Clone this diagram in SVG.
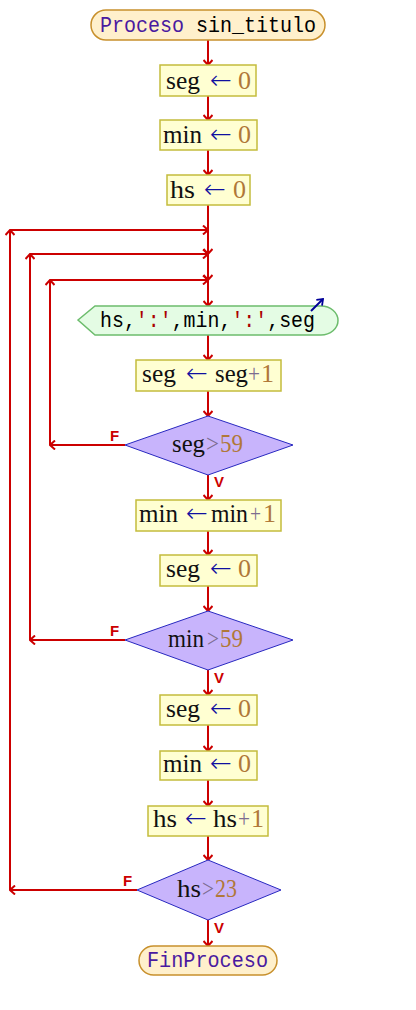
<svg xmlns="http://www.w3.org/2000/svg" width="416" height="1010" viewBox="0 0 416 1010">
<style>
.term{fill:#fff0cc;stroke:#c8902c;stroke-width:1.5}
.box{fill:#ffffd2;stroke:#c4bc3c;stroke-width:1.5}
.dia{fill:#c8b4fc;stroke:#2828c0;stroke-width:1}
.out{fill:#e4fce4;stroke:#6cbc6c;stroke-width:1.5}
.ln{stroke:#cc0000;stroke-width:2;fill:none;marker-end:url(#ah)}
.mono{font-family:"Liberation Mono",monospace;font-size:22px}
.ser{font-family:"Liberation Serif",serif;font-size:26px;fill:#111}
.arr{font-family:"DejaVu Sans",sans-serif;font-weight:200;font-size:26px;fill:#1010a0}
.num{fill:#b07838}
.op{fill:#7c6c90}
.kw{fill:#4a1aa0}
.str{fill:#aa0000}
.lbl{font-family:"Liberation Sans",sans-serif;font-size:15px;font-weight:bold;fill:#cc0000}
</style>
<defs>
<marker id="ah" viewBox="0 0 10 10" refX="9" refY="5" markerWidth="10" markerHeight="10" markerUnits="userSpaceOnUse" orient="auto">
<path d="M4,0.5 L9,5 L4,9.5" fill="none" stroke="#cc0000" stroke-width="2"/>
</marker>
<marker id="bh" viewBox="0 0 10 10" refX="9" refY="5" markerWidth="9" markerHeight="9" markerUnits="userSpaceOnUse" orient="auto">
<path d="M3,0.5 L9,5 L3,9.5" fill="none" stroke="#000099" stroke-width="2"/>
</marker>
</defs>
<g id="connectors">
<line class="ln" x1="208" y1="40" x2="208" y2="65"/>
<line class="ln" x1="208" y1="96" x2="208" y2="120"/>
<line class="ln" x1="208" y1="150" x2="208" y2="175"/>
<line class="ln" x1="208" y1="205" x2="208" y2="254"/>
<line class="ln" x1="208" y1="254" x2="208" y2="280"/>
<line class="ln" x1="208" y1="280" x2="208" y2="306"/>
<line class="ln" x1="208" y1="335" x2="208" y2="360"/>
<line class="ln" x1="208" y1="391" x2="208" y2="416"/>
<line class="ln" x1="208" y1="475" x2="208" y2="500"/>
<line class="ln" x1="208" y1="531" x2="208" y2="555"/>
<line class="ln" x1="208" y1="586" x2="208" y2="611"/>
<line class="ln" x1="208" y1="670" x2="208" y2="695"/>
<line class="ln" x1="208" y1="725" x2="208" y2="751"/>
<line class="ln" x1="208" y1="780" x2="208" y2="806"/>
<line class="ln" x1="208" y1="836" x2="208" y2="860"/>
<line class="ln" x1="208" y1="920" x2="208" y2="946"/>
<line class="ln" x1="125" y1="445" x2="50" y2="445"/>
<line class="ln" x1="50" y1="445" x2="50" y2="280"/>
<line class="ln" x1="50" y1="280" x2="208" y2="280"/>
<line class="ln" x1="125" y1="640" x2="30" y2="640"/>
<line class="ln" x1="30" y1="640" x2="30" y2="254"/>
<line class="ln" x1="30" y1="254" x2="208" y2="254"/>
<line class="ln" x1="137" y1="890" x2="10" y2="890"/>
<line class="ln" x1="10" y1="890" x2="10" y2="230"/>
<line class="ln" x1="10" y1="230" x2="208" y2="230"/>
<text class="lbl" x="110" y="441">F</text>
<text class="lbl" x="214" y="487">V</text>
<text class="lbl" x="110" y="636">F</text>
<text class="lbl" x="214" y="683">V</text>
<text class="lbl" x="123" y="886">F</text>
<text class="lbl" x="214" y="933">V</text>
</g>
<g id="start">
<rect class="term" x="91" y="10" width="234" height="30" rx="15"/>
<text class="mono" x="100" y="32" textLength="216" lengthAdjust="spacingAndGlyphs"><tspan class="kw">Proceso</tspan> sin_titulo</text>
</g>
<g id="a1">
<rect class="box" x="160" y="65" width="96" height="31"/>
<text class="ser" x="166" y="89" textLength="34" lengthAdjust="spacingAndGlyphs">seg</text>
<text class="arr" x="210" y="89" textLength="22" lengthAdjust="spacingAndGlyphs">←</text>
<text class="ser num" x="238" y="89">0</text>
</g>
<g id="a2">
<rect class="box" x="160" y="120" width="97" height="30"/>
<text class="ser" x="163" y="143" textLength="39" lengthAdjust="spacingAndGlyphs">min</text>
<text class="arr" x="210" y="143" textLength="22" lengthAdjust="spacingAndGlyphs">←</text>
<text class="ser num" x="238" y="143">0</text>
</g>
<g id="a3">
<rect class="box" x="167" y="175" width="83" height="30"/>
<text class="ser" x="170" y="198" textLength="25" lengthAdjust="spacingAndGlyphs">hs</text>
<text class="arr" x="204" y="198" textLength="22" lengthAdjust="spacingAndGlyphs">←</text>
<text class="ser num" x="233" y="198">0</text>
</g>
<g id="out">
<path class="out" d="M78,320 L95,306 L321,306 A17,14.5 0 0 1 321,335 L95,335 Z"/>
<text class="mono" x="100" y="327" textLength="215" lengthAdjust="spacingAndGlyphs">hs,<tspan class="str">':'</tspan>,min,<tspan class="str">':'</tspan>,seg</text>
<line x1="311" y1="311" x2="323" y2="299" stroke="#000099" stroke-width="2" marker-end="url(#bh)"/>
</g>
<g id="a4">
<rect class="box" x="136" y="360" width="145" height="31"/>
<text class="ser" x="142" y="382" textLength="34" lengthAdjust="spacingAndGlyphs">seg</text>
<text class="arr" x="186" y="382" textLength="22" lengthAdjust="spacingAndGlyphs">←</text>
<text class="ser" x="215" y="382" textLength="33" lengthAdjust="spacingAndGlyphs">seg</text>
<text class="ser op" x="248" y="382" textLength="12" lengthAdjust="spacingAndGlyphs">+</text>
<text class="ser num" x="261" y="382">1</text>
</g>
<g id="d1">
<polygon class="dia" points="208,416 293,445 208,475 125,445"/>
<text class="ser" x="172" y="452" textLength="33" lengthAdjust="spacingAndGlyphs">seg</text>
<text class="ser op" x="206" y="452" textLength="13" lengthAdjust="spacingAndGlyphs">&gt;</text>
<text class="ser num" x="220" y="452" textLength="23" lengthAdjust="spacingAndGlyphs">59</text>
</g>
<g id="a5">
<rect class="box" x="136" y="500" width="145" height="31"/>
<text class="ser" x="139" y="522" textLength="39" lengthAdjust="spacingAndGlyphs">min</text>
<text class="arr" x="186" y="522" textLength="22" lengthAdjust="spacingAndGlyphs">←</text>
<text class="ser" x="211" y="522" textLength="37" lengthAdjust="spacingAndGlyphs">min</text>
<text class="ser op" x="250" y="522" textLength="11" lengthAdjust="spacingAndGlyphs">+</text>
<text class="ser num" x="263" y="522">1</text>
</g>
<g id="a6">
<rect class="box" x="160" y="555" width="97" height="31"/>
<text class="ser" x="166" y="577" textLength="34" lengthAdjust="spacingAndGlyphs">seg</text>
<text class="arr" x="210" y="577" textLength="22" lengthAdjust="spacingAndGlyphs">←</text>
<text class="ser num" x="238" y="577">0</text>
</g>
<g id="d2">
<polygon class="dia" points="208,611 293,640 208,670 125,640"/>
<text class="ser" x="168" y="647" textLength="36" lengthAdjust="spacingAndGlyphs">min</text>
<text class="ser op" x="207" y="647" textLength="12" lengthAdjust="spacingAndGlyphs">&gt;</text>
<text class="ser num" x="220" y="647" textLength="23" lengthAdjust="spacingAndGlyphs">59</text>
</g>
<g id="a7">
<rect class="box" x="160" y="695" width="97" height="30"/>
<text class="ser" x="166" y="717" textLength="34" lengthAdjust="spacingAndGlyphs">seg</text>
<text class="arr" x="210" y="717" textLength="22" lengthAdjust="spacingAndGlyphs">←</text>
<text class="ser num" x="238" y="717">0</text>
</g>
<g id="a8">
<rect class="box" x="160" y="751" width="97" height="29"/>
<text class="ser" x="163" y="772" textLength="39" lengthAdjust="spacingAndGlyphs">min</text>
<text class="arr" x="210" y="772" textLength="22" lengthAdjust="spacingAndGlyphs">←</text>
<text class="ser num" x="238" y="772">0</text>
</g>
<g id="a9">
<rect class="box" x="148" y="806" width="120" height="30"/>
<text class="ser" x="153" y="827" textLength="24" lengthAdjust="spacingAndGlyphs">hs</text>
<text class="arr" x="185" y="827" textLength="22" lengthAdjust="spacingAndGlyphs">←</text>
<text class="ser" x="213" y="827" textLength="24" lengthAdjust="spacingAndGlyphs">hs</text>
<text class="ser op" x="238" y="827" textLength="12" lengthAdjust="spacingAndGlyphs">+</text>
<text class="ser num" x="251" y="827">1</text>
</g>
<g id="d3">
<polygon class="dia" points="208,860 281,890 208,920 137,890"/>
<text class="ser" x="177" y="897" textLength="24" lengthAdjust="spacingAndGlyphs">hs</text>
<text class="ser op" x="202" y="897" textLength="12" lengthAdjust="spacingAndGlyphs">&gt;</text>
<text class="ser num" x="215" y="897" textLength="22" lengthAdjust="spacingAndGlyphs">23</text>
</g>
<g id="end">
<rect class="term" x="139" y="946" width="138" height="29" rx="14.5"/>
<text class="mono kw" x="147" y="967" textLength="121" lengthAdjust="spacingAndGlyphs">FinProceso</text>
</g>
</svg>
